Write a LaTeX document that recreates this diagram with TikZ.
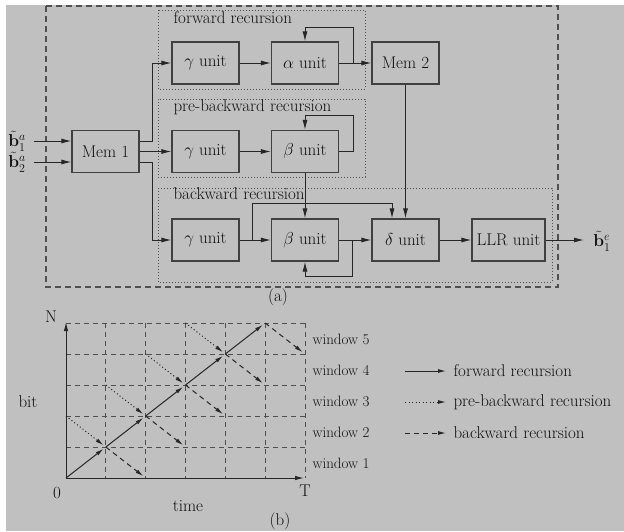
\documentclass[tikz,border=0pt]{standalone}
\usetikzlibrary{arrows.meta,calc}
\definecolor{bgc}{HTML}{C0C0C0}
\definecolor{linec}{HTML}{404040}
\definecolor{gridc}{HTML}{505050}
\definecolor{txtc}{HTML}{101010}
\begin{document}
\begin{tikzpicture}[x=1pt,y=-1pt,
  font=\fontsize{17}{20}\selectfont, text=txtc,
  unitbox/.style={draw=linec,line width=1.1pt,minimum width=67pt,minimum height=42pt,inner sep=0pt},
  arr/.style={draw=black!85,line width=1pt,-{Latex[length=10pt,width=5pt]}},
  groupbox/.style={draw=gridc,line width=1pt,dash pattern=on 1pt off 2pt},
  outerbox/.style={draw=gridc,line width=1.1pt,dash pattern=on 6pt off 4pt},
  grid line/.style={draw=gridc,line width=0.9pt,dash pattern=on 5pt off 4pt},
  garr/.style={line width=1pt,draw=black!85,-{Latex[length=8pt,width=4pt]},shorten >=3pt},
  winlab/.style={anchor=west,font=\fontsize{15}{18}\selectfont},
  grplab/.style={anchor=west}
]
\useasboundingbox (0,0) rectangle (624,531);
\fill[white] (0,0) rectangle (624,531);
\fill[bgc] (6,5) rectangle (624,531);

% ---------- (a) ----------
\draw[outerbox] (46,6) rectangle (558,287);
\draw[groupbox] (158,10) rectangle (365,89);
\draw[groupbox] (158,99) rectangle (365,177);
\draw[groupbox] (158,188) rectangle (552,282);
\node[grplab] (lf) at (170,18) {forward recursion};
\node[grplab] (lp) at (170,107) {pre-backward recursion};
\node[grplab] (lb) at (170,194) {backward recursion};

\node[unitbox] (m1) at (105.5,151.5) {Mem 1};
\node[unitbox] (g1) at (205.5,63) {$\gamma$ unit};
\node[unitbox] (a1) at (305,63) {$\alpha$ unit};
\node[unitbox] (m2) at (405.5,63) {Mem 2};
\node[unitbox] (g2) at (205.5,151.5) {$\gamma$ unit};
\node[unitbox] (b2) at (305,151.5) {$\beta$ unit};
\node[unitbox] (g3) at (205.5,240) {$\gamma$ unit};
\node[unitbox] (b3) at (305,240) {$\beta$ unit};
\node[unitbox] (d3) at (405.5,240) {$\delta$ unit};
\node[unitbox,minimum width=73pt] (llr) at (508.5,240) {LLR unit};

\coordinate (i1) at (34,141);
\coordinate (i2) at (34,162);
\node[inner sep=1pt] (in1) at (17,141) {$\tilde{\mathbf{b}}_1^a$};
\node[inner sep=1pt] (in2) at (17,162) {$\tilde{\mathbf{b}}_2^a$};
\draw[arr] (i1) -- (i1 -| m1.west);
\draw[arr] (i2) -- (i2 -| m1.west);

\coordinate (jx) at (152,0);
\draw[arr] (i1 -| m1.east) -- (i1 -| jx) |- (g1.west);
\draw[arr] (m1.east) -- (g2.west);
\draw[arr] (i2 -| m1.east) -- (i2 -| jx) |- (g3.west);

\draw[arr] (g1) -- (a1);
\draw[arr] (a1.east) -- (m2.west);
\draw[arr] (a1.east) -- ++(14,0) -- ++(0,-36) -| (a1.north);

\draw[arr] (g2) -- (b2);
\draw[arr] (b2.east) -- ++(14,0) -- ++(0,-36.5) -| (b2.north);
\draw[arr] (b2.south) -- (b3.north);

\draw[arr] (g3) -- (b3);
\draw[arr] (252,240) -- (252,203) -| ($(d3.north)+(-13.5,0)$);
\draw[arr] (m2.south) -- (d3.north);
\draw[arr] (b3) -- (d3);
\draw[arr] (352,240) -- (352,276) -| (b3.south);
\draw[arr] (d3) -- (llr);
\coordinate (o1) at (584,240);
\draw[arr] (llr.east) -- (o1);
\node[inner sep=1pt] (out) at (602,241) {$\tilde{\mathbf{b}}_1^e$};

\node (capa) at (278,297) {(a)};

% ---------- (b) ----------
\foreach \i in {1,...,6} {
  \draw[grid line] ({66+\i*39.83},323) -- ({66+\i*39.83},478);
}
\foreach \j in {1,...,5} {
  \draw[grid line] (66,{478-\j*31}) -- (305,{478-\j*31});
}
\coordinate (O) at (66,478);
\coordinate (Tx) at (304,478);
\coordinate (Ny) at (66,322);
\draw[line width=1pt,draw=black!85,-{Latex[length=9pt,width=4.5pt]}] (O) -- (Tx);
\draw[line width=1pt,draw=black!85,-{Latex[length=9pt,width=4.5pt]}] (O) -- (Ny);

\foreach \k in {0,...,4} {
  \draw[garr] ({66+\k*39.83},{478-\k*31}) -- ({66+(\k+1)*39.83},{478-(\k+1)*31});
  \draw[garr,dash pattern=on 5pt off 4pt] ({66+(\k+1)*39.83},{478-(\k+1)*31}) -- ({66+(\k+2)*39.83},{478-\k*31});
}
\foreach \k in {0,...,3} {
  \draw[garr,dash pattern=on 1pt off 2.5pt] ({66+\k*39.83},{478-(\k+2)*31}) -- ({66+(\k+1)*39.83},{478-(\k+1)*31});
}

\node (lN) at (51,317) {N};
\node (l0) at (57,493) {0};
\node (lT) at (305,491) {T};
\node (lbit) at (28,402) {bit};
\node (ltime) at (188,506) {time};
\node (capb) at (280,521) {(b)};

\node[winlab] (w5) at (309,339) {window 5};
\node[winlab] (w4) at (309,370) {window 4};
\node[winlab] (w3) at (309,401) {window 3};
\node[winlab] (w2) at (309,432) {window 2};
\node[winlab] (w1) at (309,463) {window 1};

\coordinate (f0) at (405,371);
\coordinate (f1) at (446,371);
\coordinate (p0) at (405,402);
\coordinate (p1) at (446,402);
\coordinate (q0) at (405,433);
\coordinate (q1) at (446,433);
\draw[garr,shorten >=0pt] (f0) -- (f1);
\draw[garr,shorten >=0pt,dash pattern=on 1pt off 2.5pt] (p0) -- (p1);
\draw[garr,shorten >=0pt,dash pattern=on 5pt off 4pt] (q0) -- (q1);
\node[grplab] (tf) at (450,371) {forward recursion};
\node[grplab] (tp) at (450,402) {pre-backward recursion};
\node[grplab] (tb) at (450,433) {backward recursion};
\end{tikzpicture}
\end{document}
